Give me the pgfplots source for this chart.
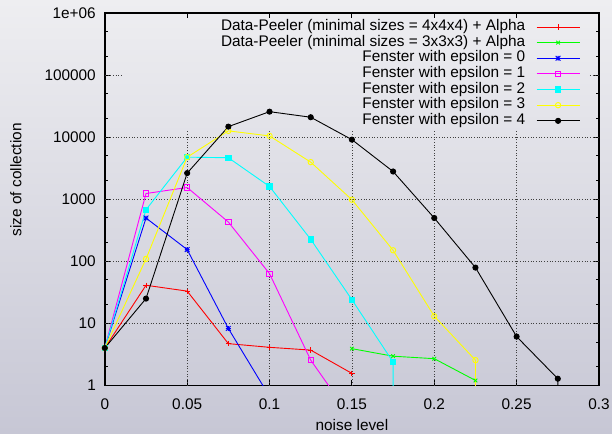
\documentclass[border=0pt]{standalone}
\usepackage{fontspec}
\setmainfont{Liberation Sans}
\usepackage{pgfplots}
\pgfplotsset{compat=1.18}
\definecolor{bgtop}{HTML}{EEEEF1}
\definecolor{bgmid}{HTML}{D9D9E3}
\definecolor{bgbot}{HTML}{C7C7D5}
\definecolor{gpred}{rgb}{1,0,0}
\definecolor{gpgreen}{rgb}{0,1,0}
\definecolor{gpblue}{rgb}{0,0,1}
\definecolor{gpmagenta}{rgb}{1,0,1}
\definecolor{gpcyan}{rgb}{0,1,1}
\definecolor{gpyellow}{rgb}{1,1,0}
\pgfdeclareplotmark{gpstar}{%
  \pgfpathmoveto{\pgfqpoint{-\pgfplotmarksize}{0pt}}\pgfpathlineto{\pgfqpoint{\pgfplotmarksize}{0pt}}%
  \pgfpathmoveto{\pgfqpoint{0pt}{-\pgfplotmarksize}}\pgfpathlineto{\pgfqpoint{0pt}{\pgfplotmarksize}}%
  \pgfpathmoveto{\pgfqpoint{-\pgfplotmarksize}{-\pgfplotmarksize}}\pgfpathlineto{\pgfqpoint{\pgfplotmarksize}{\pgfplotmarksize}}%
  \pgfpathmoveto{\pgfqpoint{-\pgfplotmarksize}{\pgfplotmarksize}}\pgfpathlineto{\pgfqpoint{\pgfplotmarksize}{-\pgfplotmarksize}}%
  \pgfusepathqstroke}
\tikzset{gpgrid/.style={black!75, line width=0.8pt, dash pattern=on 0.8pt off 1.9pt}}
\begin{document}
\begin{tikzpicture}
\shade[top color=bgtop, middle color=bgmid, bottom color=bgbot] (-105pt,-48pt) rectangle (508pt,386pt);
\begin{axis}[
  scale only axis, width=495pt, height=373pt,
  at={(0pt,0pt)}, anchor=south west,
  font=\fontsize{15.4}{18}\selectfont,
  xmin=0, xmax=0.3, ymin=1, ymax=1000000, ymode=log,
  xtick={0,0.05,0.1,0.15,0.2,0.25,0.3},
  xticklabels={0,0.05,0.1,0.15,0.2,0.25,0.3},
  ytick={1,10,100,1000,10000,100000,1000000},
  yticklabels={1,10,100,1000,10000,100000,1e+06},
  minor ytick={2,5,20,50,200,500,2000,5000,20000,50000,200000,500000},
  minor xtick={},
  tick align=inside, tick pos=both,
  axis line style={line width=1.6pt},
  major tick length=5pt, minor tick length=3pt,
  every tick/.style={black, line width=0.9pt},
  xticklabel style={yshift=-10pt},
  yticklabel style={xshift=-5.5pt},
  xlabel={noise level}, ylabel={size of collection},
  xlabel style={at={(axis description cs:0.5,-0.1072)}, anchor=center},
  ylabel style={at={(axis description cs:-0.1798,0.552)}, anchor=center, rotate=0},
  legend cell align=right,
  legend plot pos=right,
  legend style={at={(axis description cs:0.9616,0.9834)}, anchor=north east,
    draw=none, fill=none, inner sep=0pt, outer sep=0pt,
    row sep=0pt, column sep=11pt,
    nodes={inner sep=0pt, text height=11.5pt, text depth=4.17pt},
    font=\fontsize{15.4}{18}\selectfont},
  legend image code/.code={\draw[mark repeat=2,mark phase=2,#1] plot coordinates {(0pt,0pt) (21.5pt,0pt) (43pt,0pt)};},
  every axis plot/.append style={line width=0.9pt, mark options={solid, line width=0.9pt}},
]
% grid (stops at the opaque key box)
\draw[gpgrid] (axis cs:0.05,1) -- (axis cs:0.05,13000);
\draw[gpgrid] (axis cs:0.1,1) -- (axis cs:0.1,13000);
\draw[gpgrid] (axis cs:0.15,1) -- (axis cs:0.15,13000);
\draw[gpgrid] (axis cs:0.2,1) -- (axis cs:0.2,13000);
\draw[gpgrid] (axis cs:0.25,1) -- (axis cs:0.25,13000);
\draw[gpgrid] (axis cs:0,10) -- (axis cs:0.3,10);
\draw[gpgrid] (axis cs:0,100) -- (axis cs:0.3,100);
\draw[gpgrid] (axis cs:0,1000) -- (axis cs:0.3,1000);
\draw[gpgrid] (axis cs:0,10000) -- (axis cs:0.3,10000);
\draw[gpgrid] (axis cs:0,100000) -- (axis cs:0.0103,100000);
\draw[gpgrid] (axis cs:0.2945,100000) -- (axis cs:0.3,100000);

\addplot[color=gpred, mark=+, mark size=2.6pt] coordinates {(0,4)(0.025,41)(0.05,33)(0.075,4.7)(0.1,4.1)(0.125,3.7)(0.15,1.56)};
\addlegendentry{Data-Peeler (minimal sizes = 4x4x4) + Alpha}
\addplot[color=gpgreen, mark=x, mark size=2.6pt] coordinates {(0.15,3.9)(0.175,2.95)(0.2,2.69)(0.225,1.2)(0.225,0.1)};
\addlegendentry{Data-Peeler (minimal sizes = 3x3x3) + Alpha}
\addplot[color=gpblue, mark=gpstar, mark size=2.4pt] coordinates {(0,4)(0.025,497)(0.05,154)(0.075,8.25)(0.1,0.66)};
\addlegendentry{Fenster with epsilon = 0}
\addplot[color=gpmagenta, mark=square, mark size=2.7pt] coordinates {(0,4)(0.025,1233)(0.05,1542)(0.075,428)(0.1,63)(0.125,2.55)(0.15,0.29)};
\addlegendentry{Fenster with epsilon = 1}
\addplot[color=gpcyan, mark=square*, mark size=2.7pt] coordinates {(0,4)(0.025,676)(0.05,4750)(0.075,4650)(0.1,1600)(0.125,225)(0.15,24)(0.175,2.37)(0.175,0.1)};
\addlegendentry{Fenster with epsilon = 2}
\addplot[color=gpyellow, mark=o, mark size=2.7pt] coordinates {(0,4)(0.025,109)(0.05,4750)(0.075,12600)(0.1,10450)(0.125,3950)(0.15,980)(0.175,150)(0.2,13)(0.225,2.55)(0.225,0.1)};
\addlegendentry{Fenster with epsilon = 3}
\addplot[color=black, mark=*, mark size=2.6pt] coordinates {(0,4)(0.025,25)(0.05,2630)(0.075,14750)(0.1,25700)(0.125,20900)(0.15,9100)(0.175,2790)(0.2,497)(0.225,79)(0.25,6.1)(0.275,1.28)(0.275,0.1)};
\addlegendentry{Fenster with epsilon = 4}
\end{axis}
\end{tikzpicture}
\end{document}
